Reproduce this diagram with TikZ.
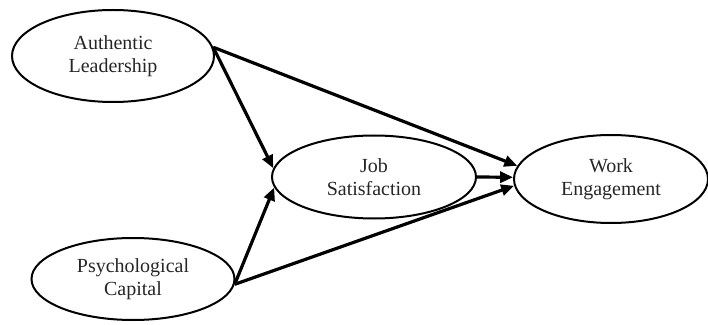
\documentclass[tikz,border=0pt]{standalone}
\usepackage{fontspec}
\setmainfont{Liberation Serif}
\usetikzlibrary{shapes.geometric,arrows.meta}
\begin{document}
\begin{tikzpicture}[x=1pt,y=1pt,
    construct/.style={draw,ellipse,line width=2pt,inner sep=0pt,align=center,
      text=black!85,font=\fontsize{20}{22.5}\selectfont},
    path/.style={line width=3.2pt,-{Triangle[length=13pt,width=11pt]}}]
  % frame
  \useasboundingbox (0,0) rectangle (708,324);

  % Draw constructs
  \node[construct,minimum width=202,minimum height=92] (al) at (113,268) {Authentic\\Leadership};
  \node[construct,minimum width=203,minimum height=82] (pc) at (133,45) {Psychological\\Capital};
  \node[construct,minimum width=204,minimum height=83] (js) at (374,147) {Job\\Satisfaction};
  \node[construct,minimum width=194,minimum height=88] (we) at (611,145) {Work\\Engagement};

  % Draw paths
  \draw[path] (al.5) -- (js.175);
  \draw[path] (al.5) -- (we.172);
  \draw[path] (pc.357) -- (js.186);
  \draw[path] (pc.357) -- (we.184);
  \draw[path] (js.0) -- (we.179);
\end{tikzpicture}
\end{document}
